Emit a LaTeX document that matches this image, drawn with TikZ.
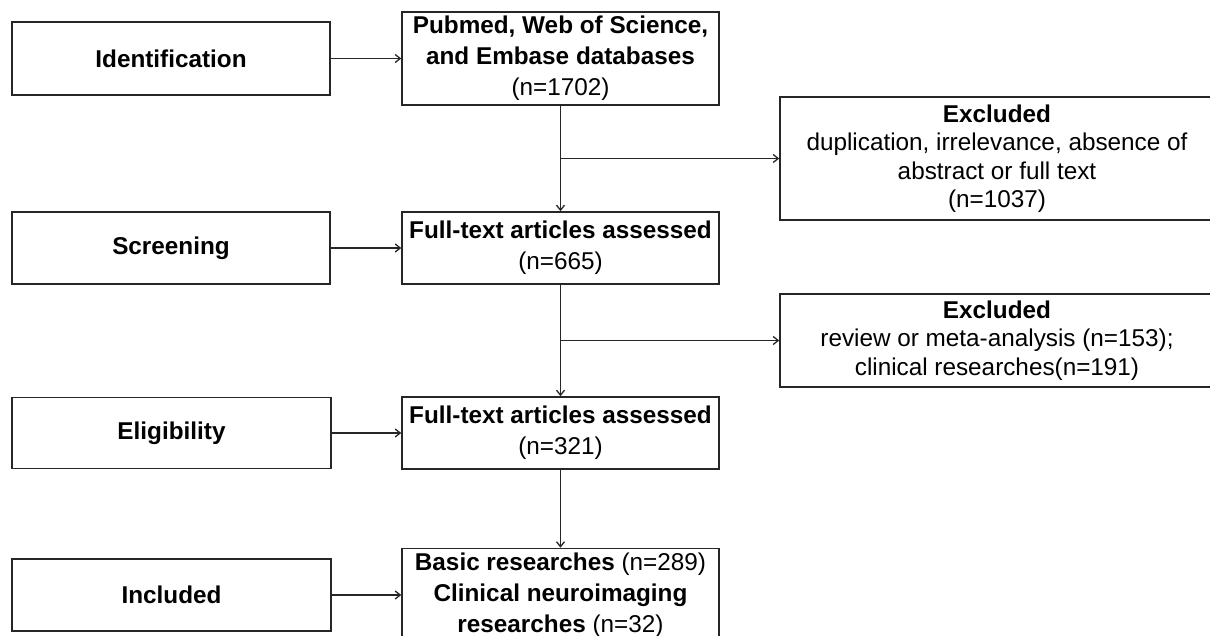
\documentclass[tikz,border=0pt]{standalone}
\usepackage{fontspec}
\setmainfont{Liberation Sans}
\usetikzlibrary{arrows.meta}
\begin{document}
\begin{tikzpicture}[x=1pt,y=1pt,
  box/.style={draw=black!85, line width=1.6pt, rectangle, inner sep=0pt, align=center,
    font=\fontsize{24.3}{31}\selectfont, text=black},
  exbox/.style={box, font=\fontsize{24.3}{28.5}\selectfont},
  arr/.style={draw=black!85, line width=1.5pt, -{Straight Barb[length=5pt,width=8pt,line width=1.3pt]}}
]
\clip (0,0) rectangle (1210,-636);
\fill[white] (0,0) rectangle (1210,-636);
% left stage boxes
\node[box, minimum width=318pt, minimum height=73pt] (L1) at (171,-58.5) {\bfseries Identification};
\node[box, minimum width=318pt, minimum height=72pt] (L2) at (171,-248) {\bfseries Screening};
\node[box, minimum width=319pt, minimum height=71pt] (L3) at (171.5,-433) {\bfseries Eligibility};
\node[box, minimum width=319pt, minimum height=72pt] (L4) at (171.5,-595) {\bfseries Included};
% middle boxes
\node[box, minimum width=317pt, minimum height=93pt] (M1) at (560.5,-58.5)
  {\bfseries Pubmed, Web of Science,\\ \bfseries and Embase databases\\ (n=1702)};
\node[box, minimum width=317pt, minimum height=72pt] (M2) at (560.5,-248)
  {\bfseries Full-text articles assessed\\ (n=665)};
\node[box, minimum width=317pt, minimum height=72pt] (M3) at (560.5,-433)
  {\bfseries Full-text articles assessed\\ (n=321)};
\node[box, minimum width=317pt, minimum height=93pt] (M4) at (560.5,-595)
  {{\bfseries Basic researches} (n=289)\\ \bfseries Clinical neuroimaging\\ {\bfseries researches} (n=32)};
% right exclusion boxes
\node[exbox, minimum width=434pt, minimum height=123pt] (R1) at (997,-158.5)
  {\bfseries Excluded\\ duplication, irrelevance, absence of\\ abstract or full text\\ (n=1037)};
\node[exbox, minimum width=434pt, minimum height=93pt] (R2) at (997,-340.5)
  {\bfseries Excluded\\ review or meta-analysis (n=153);\\ clinical researches(n=191)};
% connectors
\draw[arr] (L1.east) -- (M1.west);
\draw[arr] (L2.east) -- (M2.west);
\draw[arr] (L3.east) -- (M3.west);
\draw[arr] (L4.east) -- (M4.west);
\draw[arr] (M1.south) -- (M2.north);
\draw[arr] (M2.south) -- (M3.north);
\draw[arr] (M3.south) -- (M4.north);
\draw[arr] (M1.south |- R1.west) -- (R1.west);
\draw[arr] (M2.south |- R2.west) -- (R2.west);
\end{tikzpicture}
\end{document}
